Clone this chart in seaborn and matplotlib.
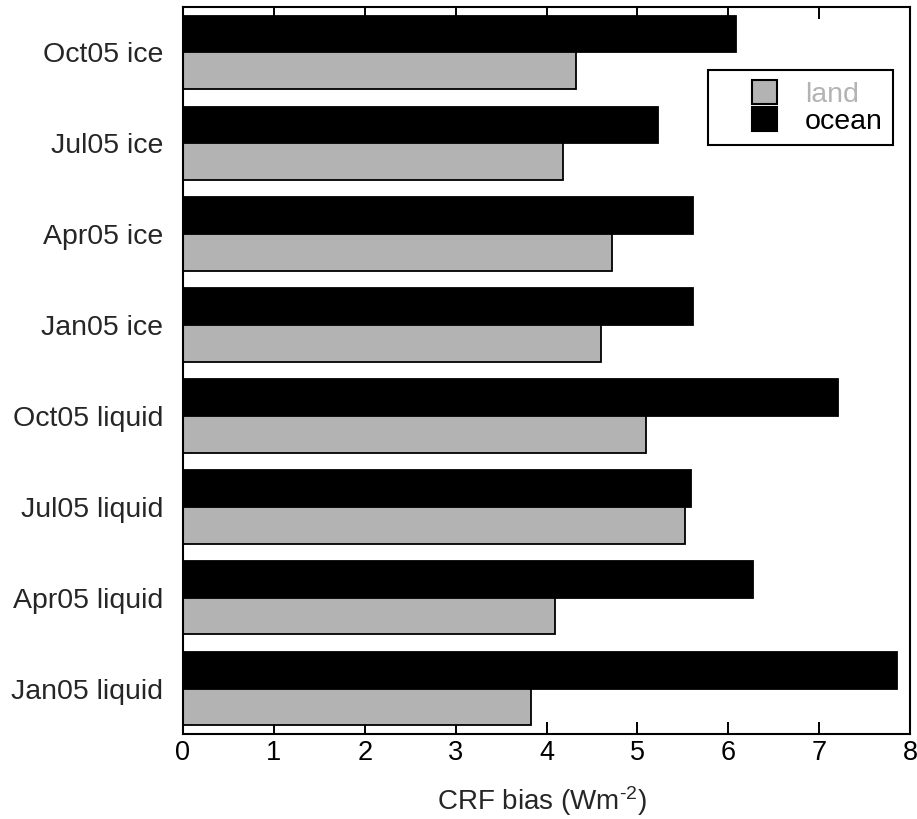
import matplotlib
matplotlib.use("Agg")
import matplotlib.pyplot as plt
import seaborn as sns
import pandas as pd
from matplotlib.patches import Patch, Rectangle
from matplotlib.legend_handler import HandlerPatch

categories = ["Oct05 ice", "Jul05 ice", "Apr05 ice", "Jan05 ice",
              "Oct05 liquid", "Jul05 liquid", "Apr05 liquid", "Jan05 liquid"]
ocean = [6.09, 5.23, 5.61, 5.61, 7.21, 5.59, 6.27, 7.86]
land = [4.32, 4.18, 4.72, 4.60, 5.10, 5.52, 4.09, 3.83]
series = ["ocean", "land"]
xticks = [0, 1, 2, 3, 4, 5, 6, 7, 8]

rows = []
for c, o, l in zip(categories, ocean, land):
    rows.append({"cat": c, "surface": "ocean", "val": o})
    rows.append({"cat": c, "surface": "land", "val": l})
df = pd.DataFrame(rows)

sns.set_theme(style="white")
plt.rcParams["font.family"] = ["Liberation Sans", "DejaVu Sans"]
plt.rcParams["mathtext.fontset"] = "custom"
plt.rcParams["mathtext.rm"] = "Liberation Sans"
plt.rcParams["mathtext.it"] = "Liberation Sans"
plt.rcParams["mathtext.default"] = "regular"

colors = {"ocean": "#000000", "land": "#b3b3b3"}

fig = plt.figure(figsize=(9.17, 8.19), dpi=100)
ax = fig.add_axes([183 / 917, 1 - 734 / 819, (910 - 183) / 917, (734 - 7) / 819])

sns.barplot(data=df, y="cat", x="val", hue="surface", hue_order=series,
            order=categories, orient="h", palette=colors, width=0.81,
            edgecolor="black", linewidth=1.3, saturation=1, ax=ax, legend=False)

ax.set_xlim(0, 8)
ax.set_ylim(7.5, -0.5)
ax.set_xticks(xticks)
ax.set_xticklabels([str(t) for t in xticks], fontsize=19.5)
ax.tick_params(axis="x", which="both", direction="in", length=8.6, width=1.4,
               top=True, bottom=True, pad=4, colors="black")
ax.tick_params(axis="y", length=0, pad=14.4, labelsize=20.5)
ax.set_ylabel("")
ax.set_xlabel("CRF bias (Wm$^{\\text{-}2}$)", fontsize=20)
ax.xaxis.set_label_coords(0.5 - 5 / 727, (734 - 810) / 727)
ax.xaxis.label.set_va("baseline")
for s in ax.spines.values():
    s.set_visible(True)
    s.set_color("black")
    s.set_linewidth(1.5)


def make_patch(legend, orig_handle, xdescent, ydescent, width, height, fontsize):
    w = 25 / 1.3889
    h = 24 / 1.3889
    p = Rectangle((-xdescent + width - w, -ydescent + (height - h) / 2), w, h)
    return p


handles = [Patch(facecolor=colors["land"], edgecolor="black", linewidth=1.5),
           Patch(facecolor=colors["ocean"], edgecolor="black", linewidth=1.5)]
leg = ax.legend(handles, ["land", "ocean"], loc="upper right",
                bbox_to_anchor=((893 - 183) / 727, 1 - (70 - 7) / 727),
                fontsize=20.5, frameon=True, fancybox=False, edgecolor="black",
                handlelength=2.06, handleheight=0.9, handletextpad=1.0,
                labelspacing=0.0, borderpad=0.35, borderaxespad=0,
                framealpha=1,
                handler_map={Patch: HandlerPatch(patch_func=make_patch)})
leg.get_frame().set_linewidth(1.5)
leg.get_texts()[0].set_color("#b3b3b3")
leg.get_texts()[1].set_color("black")

fig.savefig("out.png", dpi=100)
